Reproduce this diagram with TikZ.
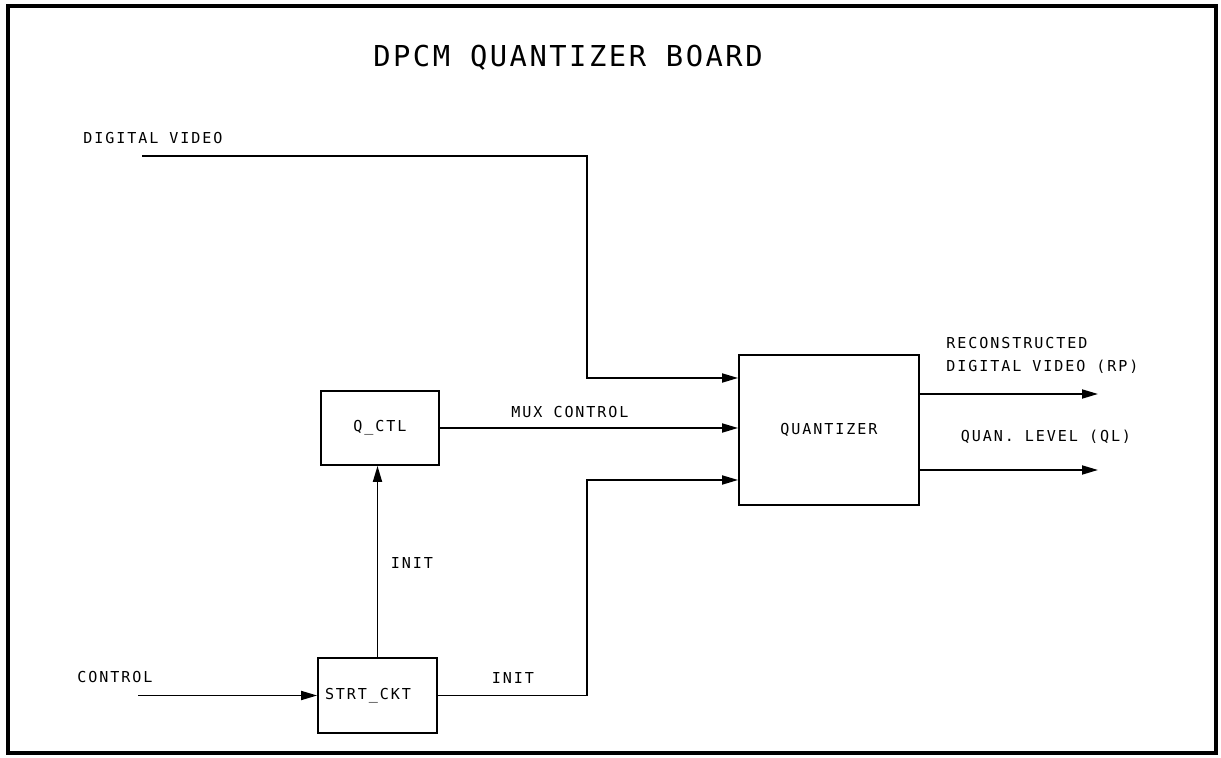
\documentclass[tikz,border=0pt]{standalone}
\usepackage{fontspec}
\usetikzlibrary{arrows.meta, positioning}
\newfontfamily\plotfont[LetterSpace=12.7]{DejaVu Sans Mono}
\newfontfamily\plottitlefont[LetterSpace=8.7]{DejaVu Sans Mono}

\begin{document}
\begin{tikzpicture}[
  x=0.5pt, y=-0.5pt,
  every node/.style={font=\plotfont\fontsize{7.54}{11.5}\selectfont, text=black},
  block/.style={draw, line width=0.9pt, inner sep=0pt},
  flow/.style={-{Triangle[length=8pt, width=4.5pt]}, line width=0.9pt},
  wire/.style={line width=0.9pt},
  tag/.style={inner sep=0pt}
]
\useasboundingbox (0,0) rectangle (1221,758);

% sheet frame
\draw[line width=1.8pt] (8,6) rectangle (1216,753);

% title
\node[tag, font=\plottitlefont\fontsize{14.4}{17}\selectfont] (title) at (568,58)
  {DPCM QUANTIZER BOARD};

% blocks
\node[block, minimum width=59pt, minimum height=37pt] (qctl) at (380,428) {Q\_CTL};
\node[block, minimum height=37.5pt, text width=52.5pt, inner xsep=3.5pt,
  align=left] (strt) at (377.5,695.5) {STRT\_CKT};
\node[block, minimum width=90pt, minimum height=75pt] (quant) at (829,430) {QUANTIZER};

% free ends and knees
\coordinate (dvin) at (142,156);
\coordinate (dvknee) at (587,156);
\coordinate (ctlin) at (138,695.5);
\coordinate (initknee) at (587,695.5);
\coordinate (rpout) at (1098,394);
\coordinate (qlout) at (1098,470);

% inputs to the quantizer
\draw[flow] (dvin) -- (dvknee) |- (quant.west |- 0,378);
\draw[flow] (qctl.east) -- (qctl.east -| quant.west);
\draw[flow] (strt.east) -- (initknee) |- (quant.west |- 0,480);

% start circuit
\draw[flow] (ctlin) -- (strt.west);
\draw[flow] (strt.north) -- (strt.north |- qctl.south);

% outputs
\draw[flow] (quant.east |- rpout) -- (rpout);
\draw[flow] (quant.east |- qlout) -- (qlout);

% labels
\node[tag] (dvlabel) at (153,138) {DIGITAL VIDEO};
\node[tag] (ctllabel) at (115,677) {CONTROL};
\node[tag] (muxlabel) at (570,412) {MUX CONTROL};
\node[tag] (initup) at (412,563) {INIT};
\node[tag] (initright) at (513,678) {INIT};
\node[tag, align=left, anchor=west] (rplabel) at (946,355.5)
  {RECONSTRUCTED\\DIGITAL VIDEO (RP)};
\node[tag] (qllabel) at (1046,437) {QUAN. LEVEL (QL)};

\end{tikzpicture}
\end{document}
